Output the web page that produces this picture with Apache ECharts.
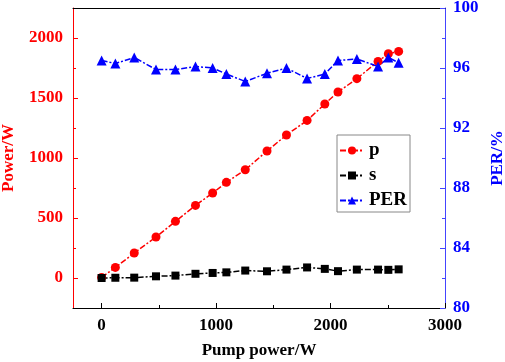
<!DOCTYPE html>
<html>
<head>
<meta charset="utf-8">
<script src="https://cdn.jsdelivr.net/npm/echarts@6/dist/echarts.min.js"></script>
<style>
  html, body { margin: 0; padding: 0; background: #fff; }
  #main { width: 505px; height: 362px; }
</style>
</head>
<body>
<div id="main"></div>
<script>
  // pump power (x) shared by all three series
  var pumpPower = [0, 120, 285, 475, 645, 820, 970, 1090, 1255, 1445, 1615, 1795, 1950, 2065, 2230, 2415, 2505, 2595]
  var pList = [5, 88, 208, 342, 472, 605, 708, 797, 902, 1058, 1192, 1313, 1450, 1550, 1661, 1805, 1869, 1888]
  var sList = [0, 2, 3, 14, 20, 35, 42, 47, 62, 56, 70, 88, 76, 57, 70, 70, 68, 72]
  var perList = [96.5, 96.3, 96.7, 95.9, 95.9, 96.1, 96.0, 95.6, 95.1, 95.65, 96.0, 95.3, 95.6, 96.5, 96.6, 96.1, 96.7, 96.35]

  var xMajorTicks = [0, 1000, 2000, 3000]
  var xMinorTicks = [500, 1500, 2500]
  var yMajorTicks = [0, 500, 1000, 1500, 2000]
  var yMinorTicks = [250, 750, 1250, 1750]

  function pairs(xs, ys) {
    var out = []
    for (var i = 0; i < xs.length; i++) {
      out.push([xs[i], ys[i]])
    }
    return out
  }

  var font = 'Liberation Serif'
  var red = '#ff0000'
  var blue = '#0000ff'
  var dashDot = [6, 2, 2, 2]
  var plain = function (v) { return String(v) }

  var myChart = echarts.init(document.getElementById('main'))
  var option = {
    animation: false,
    grid: { left: 73, right: 60, top: 8, bottom: 54, outerBoundsMode: 'none', containLabel: false },
    legend: {
      orient: 'vertical',
      left: 337,
      top: 135,
      padding: [6, 3, 2, 2],
      borderColor: '#888',
      borderWidth: 1,
      itemWidth: 24,
      itemHeight: 10,
      itemGap: 6,
      textStyle: { fontFamily: font, fontWeight: 'bold', fontSize: 19, color: '#000', lineHeight: 19 },
      data: ['p', 's', 'PER']
    },
    xAxis: [{
      type: 'value',
      min: -250,
      max: 3000,
      name: 'Pump power/W',
      nameLocation: 'middle',
      nameGap: 34,
      nameTextStyle: { fontFamily: font, fontWeight: 'bold', fontSize: 17, color: '#000' },
      axisLine: { onZero: false, lineStyle: { color: '#000', width: 1 } },
      axisTick: { inside: true, length: 5, customValues: xMajorTicks, lineStyle: { color: '#000' } },
      axisLabel: { customValues: xMajorTicks, formatter: plain, margin: 9, fontFamily: font, fontWeight: 'bold', fontSize: 17, color: '#000' },
      splitLine: { show: false }
    }, {
      // minor ticks along the bottom
      type: 'value',
      min: -250,
      max: 3000,
      position: 'bottom',
      axisLine: { show: false, onZero: false },
      axisTick: { inside: true, length: 3, customValues: xMinorTicks, lineStyle: { color: '#000' } },
      axisLabel: { show: false },
      splitLine: { show: false }
    }, {
      // top frame line
      type: 'value',
      min: -250,
      max: 3000,
      position: 'top',
      axisLine: { onZero: false, lineStyle: { color: '#000', width: 1 } },
      axisTick: { show: false },
      axisLabel: { show: false },
      splitLine: { show: false }
    }],
    yAxis: [{
      type: 'value',
      min: -250,
      max: 2250,
      position: 'left',
      name: 'Power/W',
      nameLocation: 'middle',
      nameGap: 56,
      nameTextStyle: { fontFamily: font, fontWeight: 'bold', fontSize: 17, color: red },
      axisLine: { onZero: false, lineStyle: { color: red, width: 1 } },
      axisTick: { inside: true, length: 5, customValues: yMajorTicks, lineStyle: { color: red } },
      axisLabel: { customValues: yMajorTicks, formatter: plain, margin: 10, fontFamily: font, fontWeight: 'bold', fontSize: 17, color: red },
      splitLine: { show: false }
    }, {
      type: 'value',
      min: 80,
      max: 100,
      interval: 4,
      position: 'right',
      name: 'PER/%',
      nameLocation: 'middle',
      nameGap: 44,
      nameRotate: 90,
      nameTextStyle: { fontFamily: font, fontWeight: 'bold', fontSize: 17, color: blue },
      axisLine: { onZero: false, lineStyle: { color: '#4444ff', width: 1 } },
      axisTick: { inside: true, length: 5, lineStyle: { color: '#4444ff' } },
      minorTick: { show: true, splitNumber: 2, length: 3, lineStyle: { color: '#4444ff' } },
      axisLabel: { margin: 8, fontFamily: font, fontWeight: 'bold', fontSize: 17, color: blue },
      splitLine: { show: false }
    }, {
      // minor ticks on the left
      type: 'value',
      min: -250,
      max: 2250,
      position: 'left',
      axisLine: { show: false, onZero: false },
      axisTick: { inside: true, length: 3, customValues: yMinorTicks, lineStyle: { color: red } },
      axisLabel: { show: false },
      splitLine: { show: false }
    }],
    series: [{
      name: 'p',
      type: 'line',
      xAxisIndex: 0,
      yAxisIndex: 0,
      symbol: 'circle',
      symbolSize: 9,
      itemStyle: { color: red },
      lineStyle: { color: red, width: 1.5, type: dashDot },
      data: pairs(pumpPower, pList)
    }, {
      name: 's',
      type: 'line',
      xAxisIndex: 0,
      yAxisIndex: 0,
      symbol: 'rect',
      symbolSize: 8,
      itemStyle: { color: '#000' },
      lineStyle: { color: '#000', width: 1.5, type: dashDot },
      data: pairs(pumpPower, sList)
    }, {
      name: 'PER',
      type: 'line',
      xAxisIndex: 0,
      yAxisIndex: 1,
      symbol: 'triangle',
      symbolSize: 10,
      itemStyle: { color: blue },
      lineStyle: { color: blue, width: 1.5, type: dashDot },
      data: pairs(pumpPower, perList)
    }]
  }
  myChart.setOption(option)
</script>
</body>
</html>
